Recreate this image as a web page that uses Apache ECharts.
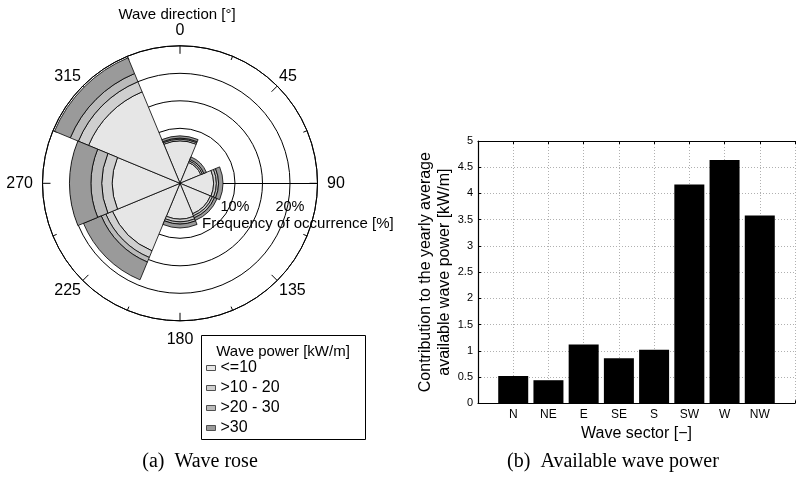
<!DOCTYPE html>
<html>
<head>
<meta charset="utf-8">
<script src="https://cdn.jsdelivr.net/npm/echarts@6/dist/echarts.min.js"></script>
<style>
  html, body { margin: 0; padding: 0; background: #ffffff; }
  #main { width: 798px; height: 478px; }
</style>
</head>
<body>
<div id="main"></div>
<script>
// Wave sectors, clockwise from north
const sectors = ['N', 'NE', 'E', 'SE', 'S', 'SW', 'W', 'NW'];

// Frequency of occurrence [%] per sector, split by wave power class
const powerClasses = ['<=10', '>10 - 20', '>20 - 30', '>30'];
const freqUpTo10 = [7.7, 4.1, 6.1, 6.0, 6.5, 13.3, 12.3, 18.0];
const freq10to20 = [0.3, 0.3, 0.5, 0.4, 0.5, 1.3, 1.9, 2.0];
const freq20to30 = [0.2, 0.3, 0.4, 0.4, 0.4, 0.9, 2.0, 1.6];
const freqOver30 = [0.4, 0.5, 0.8, 0.5, 0.7, 3.5, 3.9, 3.1];

// Contribution to the yearly average available wave power [kW/m]
const sectorPower = [0.52, 0.44, 1.12, 0.86, 1.02, 4.17, 4.64, 3.58];

// Frequency rings and their labels
const freqMax = 25;
const freqStep = 5;
const freqLabels = [10, 20];

const classColors = ['#e6e6e6', '#cfcfcf', '#bababa', '#9a9a9a'];
const classData = [freqUpTo10, freq10to20, freq20to30, freqOver30];

const FONT = 'Liberation Sans, Arial, Helvetica, sans-serif';
const SERIF = 'Liberation Serif, Times New Roman, serif';

const chart = echarts.init(document.getElementById('main'), null, { renderer: 'canvas' });

const roseSeries = powerClasses.map((name, k) => ({
  name: name,
  type: 'bar',
  coordinateSystem: 'polar',
  polarIndex: 1,
  stack: 'rose',
  barCategoryGap: '0%',
  data: classData[k],
  itemStyle: { color: classColors[k], borderColor: '#000', borderWidth: 0.8 },
  emphasis: { disabled: true },
  silent: true,
  z: 3
}));

// direction labels: the cardinal ones sit a little further from the circle
const dirLabelStyle = { fontSize: 16, fontFamily: FONT, color: '#000' };
const cardinalRich = {
  n: Object.assign({ padding: [0, 0, 5, 0] }, dirLabelStyle),
  e: Object.assign({ padding: [0, 0, 0, 7] }, dirLabelStyle),
  s: Object.assign({ padding: [8, 0, 0, 0] }, dirLabelStyle),
  w: Object.assign({ padding: [0, 7, 0, 0] }, dirLabelStyle)
};
function dirLabel(v) {
  const d = Math.round(v) % 360;
  const key = { 0: 'n', 90: 'e', 180: 's', 270: 'w' }[d];
  return key ? '{' + key + '|' + d + '}' : String(d);
}

const option = {
  animation: false,
  backgroundColor: '#ffffff',
  textStyle: { fontFamily: FONT },
  polar: [
    { center: [180, 183.3], radius: 137.5 },
    { center: [180, 183.3], radius: 137.5 }
  ],
  angleAxis: [
    {
      // compass directions: 90 at east, increasing clockwise
      polarIndex: 0,
      type: 'value',
      min: 90,
      max: 450,
      interval: 45,
      startAngle: 0,
      clockwise: true,
      axisLine: { lineStyle: { color: '#000', width: 1 } },
      axisTick: { show: true, inside: true, length: 8, lineStyle: { color: '#000', width: 1 } },
      minorTick: { show: true, splitNumber: 2, length: 4, lineStyle: { color: '#000', width: 1 } },
      splitLine: { show: false },
      axisLabel: Object.assign({ margin: 2.5, formatter: dirLabel, rich: cardinalRich }, dirLabelStyle)
    },
    {
      polarIndex: 1,
      type: 'category',
      data: sectors,
      startAngle: 112.5,
      clockwise: true,
      boundaryGap: true,
      axisLine: { show: false },
      axisTick: { show: false },
      axisLabel: { show: false },
      splitLine: { show: false }
    }
  ],
  radiusAxis: [
    {
      polarIndex: 0,
      type: 'value',
      min: 0,
      max: freqMax,
      interval: freqStep,
      axisLine: { show: true, lineStyle: { color: '#000', width: 1 } },
      axisTick: { show: false },
      splitLine: { show: true, lineStyle: { color: '#000', width: 1 } },
      axisLabel: {
        margin: -24,
        align: 'center',
        verticalAlign: 'middle',
        color: '#000',
        fontSize: 14.5,
        fontFamily: FONT,
        formatter: v => (freqLabels.indexOf(v) >= 0 ? v + '%' : '')
      }
    },
    {
      polarIndex: 1,
      type: 'value',
      min: 0,
      max: freqMax,
      show: false,
      axisLine: { show: false },
      axisTick: { show: false },
      axisLabel: { show: false },
      splitLine: { show: false }
    }
  ],
  grid: {
    left: 478,
    top: 141,
    width: 329.4,
    height: 262.3
  },
  xAxis: [
    {
      type: 'value',
      min: 0,
      max: sectors.length + 1,
      interval: 1,
      position: 'bottom',
      name: 'Wave sector [\u2212]',
      nameLocation: 'middle',
      nameGap: 16,
      nameTextStyle: { color: '#000', fontSize: 16, fontFamily: FONT },
      axisLine: { onZero: false, lineStyle: { color: '#000', width: 1.2 } },
      axisTick: { show: true, inside: true, length: 3, lineStyle: { color: '#000' } },
      axisLabel: {
        color: '#000',
        fontSize: 12,
        margin: 5,
        fontFamily: FONT,
        formatter: v => sectors[v - 1] || ''
      },
      splitLine: { show: true, lineStyle: { color: '#b0b0b0', type: [1, 2], width: 1 } }
    },
    {
      type: 'value',
      min: 0,
      max: sectors.length + 1,
      interval: 1,
      position: 'top',
      axisLine: { onZero: false, lineStyle: { color: '#000', width: 1.2 } },
      axisTick: { show: true, inside: true, length: 3, lineStyle: { color: '#000' } },
      axisLabel: { show: false },
      splitLine: { show: false }
    }
  ],
  yAxis: {
    type: 'value',
    min: 0,
    max: 5,
    interval: 0.5,
    name: 'Contribution to the yearly average\navailable wave power [kW/m]',
    nameLocation: 'middle',
    nameRotate: 90,
    nameGap: 19,
    nameTextStyle: { color: '#000', fontSize: 16, lineHeight: 18.6, fontFamily: FONT },
    axisLine: { show: true, lineStyle: { color: '#000', width: 1.2 } },
    axisTick: { show: true, inside: true, length: 3, lineStyle: { color: '#000' } },
    axisLabel: { color: '#000', fontSize: 11, margin: 5, fontFamily: FONT },
    splitLine: { show: true, lineStyle: { color: '#b0b0b0', type: [1, 2], width: 1 } }
  },
  legend: {
    orient: 'vertical',
    left: 206,
    top: 360,
    padding: 0,
    itemWidth: 9,
    itemHeight: 5,
    itemGap: 4,
    icon: 'rect',
    selectedMode: false,
    data: powerClasses,
    itemStyle: { borderColor: '#505050', borderWidth: 1 },
    textStyle: { color: '#000', fontSize: 16, lineHeight: 14, fontFamily: FONT }
  },
  graphic: [
    {
      type: 'rect',
      z: -1,
      shape: { x: 201.5, y: 335.5, width: 164, height: 104 },
      style: { fill: '#fff', stroke: '#000', lineWidth: 1 }
    },
    {
      type: 'text',
      x: 283, y: 352,
      style: { text: 'Wave power [kW/m]', fill: '#000', font: '15px ' + FONT, align: 'center', verticalAlign: 'middle' }
    },
    {
      type: 'text',
      x: 177, y: 15,
      style: { text: 'Wave direction [\u00b0]', fill: '#000', font: '15px ' + FONT, align: 'center', verticalAlign: 'middle' }
    },
    {
      type: 'text',
      x: 202, y: 224,
      style: { text: 'Frequency of occurrence [%]', fill: '#000', font: '15px ' + FONT, align: 'left', verticalAlign: 'middle' }
    },
    {
      type: 'text',
      x: 200, y: 462,
      style: { text: '(a)  Wave rose', fill: '#000', font: '20px ' + SERIF, align: 'center', verticalAlign: 'middle' }
    },
    {
      type: 'text',
      x: 613, y: 462,
      style: { text: '(b)  Available wave power', fill: '#000', font: '20px ' + SERIF, align: 'center', verticalAlign: 'middle' }
    }
  ],
  series: roseSeries.concat([
    {
      name: 'power',
      type: 'bar',
      xAxisIndex: 0,
      yAxisIndex: 0,
      barWidth: 30,
      data: sectorPower.map((v, i) => [i + 1, v]),
      itemStyle: { color: '#000' },
      emphasis: { disabled: true },
      silent: true,
      z: 3
    }
  ])
};

chart.setOption(option);
</script>
</body>
</html>
